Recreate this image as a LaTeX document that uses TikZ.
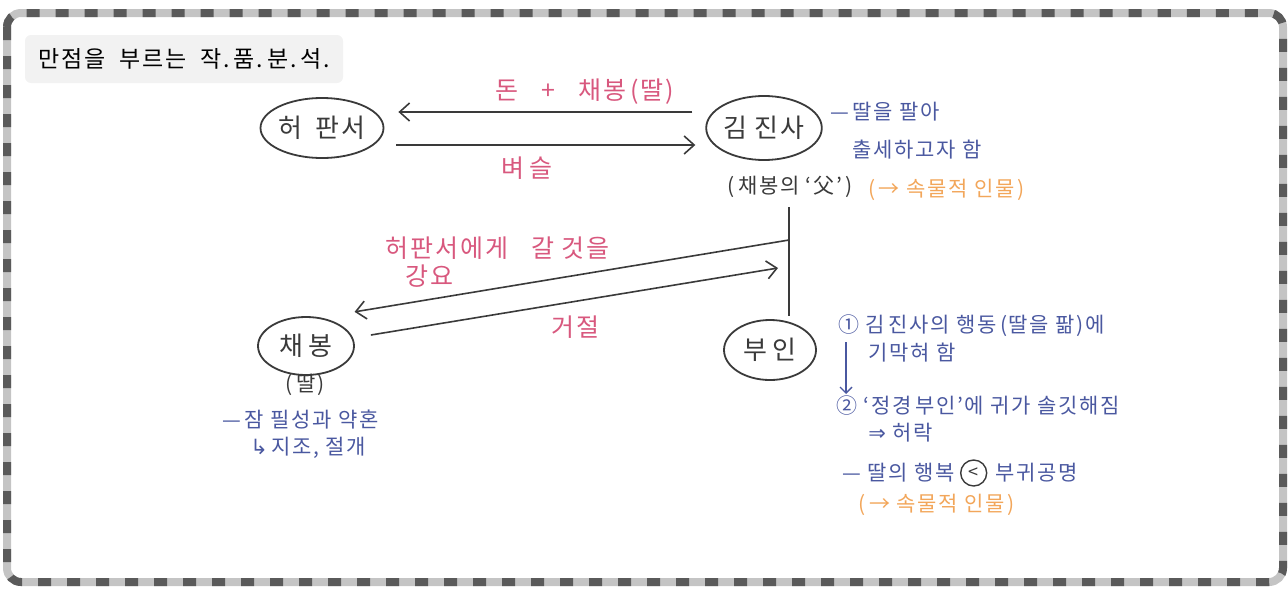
\documentclass[tikz,border=0pt]{standalone}
\usepackage{fontspec}
\setmainfont{Noto Sans CJK KR}[LetterSpace=8]
\newfontfamily\symf{DejaVu Sans}
\usetikzlibrary{arrows.meta,shapes.geometric}
\definecolor{ink}{HTML}{3A3A3A}
\definecolor{pinkc}{HTML}{D8587E}
\definecolor{bluec}{HTML}{4A58A0}
\definecolor{orangec}{HTML}{F2A65A}
\definecolor{bandlight}{HTML}{C4C4C4}
\definecolor{banddark}{HTML}{5A5A5A}
\definecolor{titlebg}{HTML}{F2F2F2}
\begin{document}
\begin{tikzpicture}[x=0.5pt,y=-0.5pt,
  person/.style={ellipse,draw=ink,line width=0.9pt,inner sep=0pt,text=ink,font=\fontsize{13}{15}\selectfont},
  conn/.style={draw=ink,line width=0.8pt},
  arr/.style={conn,-{Straight Barb[length=5pt,width=9pt,line width=0.8pt]}},
  pinkt/.style={text=pinkc,font=\fontsize{12.5}{14}\selectfont,inner sep=0pt},
  bluet/.style={text=bluec,font=\fontsize{10.5}{12}\selectfont,inner sep=0pt,anchor=west},
  oranget/.style={text=orangec,font=\fontsize{10.5}{12}\selectfont,inner sep=0pt,anchor=west},
  inkt/.style={text=ink,font=\fontsize{10.5}{12}\selectfont,inner sep=0pt}
]
\useasboundingbox (0,0) rectangle (1288,589);
% frame
\draw[bandlight,line width=4pt,rounded corners=7pt] (7,13) rectangle (1283,582);
\draw[banddark,line width=4pt,dash pattern=on 6.5pt off 8pt,rounded corners=7pt] (7,13) rectangle (1283,582);
% title
\node[fill=titlebg,rounded corners=3pt,minimum width=159pt,minimum height=24pt,inner sep=0pt,
      font=\fontsize{11.5}{13}\selectfont,text=black] (title) at (184,59) {만점을\ \ 부르는\ \ 작.\,품.\,분.\,석.};
% persons
\node[person,minimum width=61.5pt,minimum height=30pt] (hp) at (322,128) {허\ \,판서};
\node[person,minimum width=52pt,minimum height=32pt] (kj) at (764,128) {김\ 진사};
\node[person,minimum width=48pt,minimum height=29pt] (cb) at (306,346) {채\,봉};
\node[person,minimum width=46pt,minimum height=30pt] (bi) at (770,350) {부\,인};
% top arrows
\draw[arr] ([xshift=-6.5pt,yshift=8pt]kj.west) -- ([xshift=7pt,yshift=8pt]hp.east);
\draw[arr] ([xshift=6pt,yshift=-8.5pt]hp.east) -- ([xshift=-5pt,yshift=-8.5pt]kj.west);
\node[pinkt] (lab1) at (585,92) {돈\ \ \ +\ \ \ 채봉\,(딸)};
\node[pinkt] (lab2) at (527,168) {벼\,슬};
% father label and vertical line
\node[inkt] (fa) at (790,187) {(\,채봉의\ ‘父’\,)};
\coordinate (vt) at (789,207);
\coordinate (vb) at (789,316);
\draw[conn] (vt) -- (vb);
\coordinate (ga) at (789,240);
\coordinate (ge) at (778,268);
\draw[arr] (ga) -- ([xshift=7pt,yshift=6.5pt]cb.north east);
\draw[arr] ([xshift=8pt,yshift=5.5pt]cb.east) -- (ge);
\node[pinkt,anchor=west] (lab3) at (385,248) {허판서에게\ \ \ 갈\ 것을};
\node[pinkt,anchor=west] (lab4) at (405,276) {강요};
\node[pinkt] (lab5) at (575,327) {거절};
% 김 진사 notes
\node[bluet] (k1) at (830,112) {—\,딸을\ 팔아};
\node[bluet] (k2) at (852,150) {출세하고자\ 함};
\node[oranget] (k3) at (868,190) {(\,→\ 속물적\ 인물\,)};
% 채봉 notes
\node[inkt] (cb1) at (305,385) {(\,딸)};
\node[bluet] (cb2) at (222,420) {—\,잠\ 필성과\ 약혼};
\node[bluet] (cb3) at (250,448) {{\symf ↳}\,지조,\ 절개};
% 부인 notes
\node[bluet] (b1) at (838,326) {①\ 김\,진사의\ 행동\,(딸을\ 팖)에};
\node[bluet] (b2) at (868,353) {기막혀\ 함};
\coordinate (da1) at (846,342);
\coordinate (da2) at (846,394);
\draw[draw=bluec,line width=0.7pt,-{Straight Barb[length=3pt,width=6pt,line width=0.7pt]}] (da1) -- (da2);
\node[bluet] (b3) at (836,406) {②\ ‘정경\,부인’에\ 귀가\ 솔깃해짐};
\node[bluet] (b4) at (868,433) {{\symf ⇒}\ 허락};
\node[bluet] (b5) at (842,473) {—\ 딸의\ 행복};
\node[circle,draw=ink,line width=0.7pt,minimum size=13pt,inner sep=0pt,text=ink,
      font=\fontsize{9}{10}\selectfont,anchor=west] (lt) at ([xshift=2.5pt]b5.east) {<};
\node[bluet] (b6) at ([xshift=4pt]lt.east) {부귀공명};
\node[oranget] (b7) at (858,505) {(\,→\ 속물적\ 인물\,)};
\end{tikzpicture}
\end{document}
